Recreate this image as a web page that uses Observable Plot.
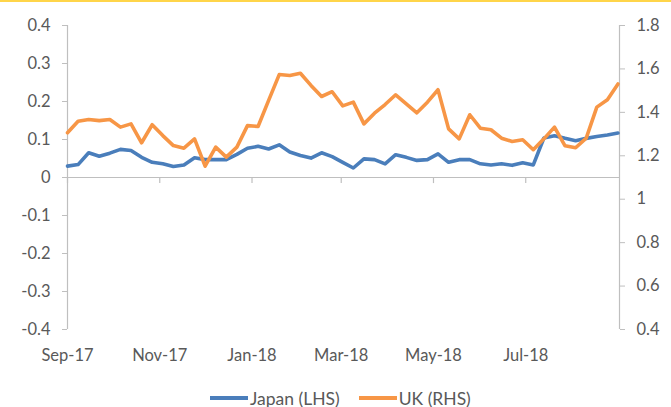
<!DOCTYPE html>
<html>
<head>
<meta charset="utf-8">
<script src="https://cdn.jsdelivr.net/npm/d3@7"></script>
<script src="https://cdn.jsdelivr.net/npm/@observablehq/plot@0.6"></script>
<style>
  html, body { margin: 0; padding: 0; background: #fff; }
  #wrap { position: relative; width: 671px; height: 407px; overflow: hidden; font-family: Lato, "Open Sans", sans-serif; }
  #topbar { position: absolute; left: 0; top: 0; width: 671px; height: 2px; background: #ffd54a; }
  #chart { position: absolute; left: 0; top: 0; }
  #legend { position: absolute; left: 210px; top: 388px; height: 20px; display: flex; align-items: center; font-size: 17.5px; color: #595959; white-space: nowrap; }
  .sw { display: inline-block; width: 38px; height: 3.5px; margin-right: 2px; }
  .item { display: flex; align-items: center; margin-right: 19px; }
</style>
</head>
<body>
<div id="wrap">
  <div id="chart"></div>
  <div id="topbar"></div>
  <div id="legend"></div>
</div>
<script>
// ---- data ----
const dates = [
  "2017-09-01","2017-09-08","2017-09-15","2017-09-22","2017-09-29",
  "2017-10-06","2017-10-13","2017-10-20","2017-10-27",
  "2017-11-03","2017-11-10","2017-11-17","2017-11-24",
  "2017-12-01","2017-12-08","2017-12-15","2017-12-22","2017-12-29",
  "2018-01-05","2018-01-12","2018-01-19","2018-01-26",
  "2018-02-02","2018-02-09","2018-02-16","2018-02-23",
  "2018-03-02","2018-03-09","2018-03-16","2018-03-23","2018-03-30",
  "2018-04-06","2018-04-13","2018-04-20","2018-04-27",
  "2018-05-04","2018-05-11","2018-05-18","2018-05-25",
  "2018-06-01","2018-06-08","2018-06-15","2018-06-22","2018-06-29",
  "2018-07-06","2018-07-13","2018-07-20","2018-07-27",
  "2018-08-03","2018-08-10","2018-08-17","2018-08-24","2018-08-31"
];
const japan = [
  0.030,0.034,0.065,0.056,0.064,
  0.074,0.071,0.053,0.040,
  0.036,0.029,0.033,0.052,
  0.047,0.047,0.047,0.061,0.077,
  0.082,0.075,0.086,0.067,
  0.058,0.051,0.065,0.055,
  0.040,0.025,0.049,0.047,0.036,
  0.060,0.053,0.045,0.047,
  0.062,0.040,0.047,0.047,
  0.036,0.033,0.036,0.032,0.039,
  0.033,0.104,0.110,0.103,
  0.097,0.103,0.108,0.112,0.117
];
const uk = [
  1.306,1.359,1.367,1.362,1.367,
  1.332,1.347,1.260,1.343,
  1.293,1.247,1.235,1.278,
  1.152,1.240,1.194,1.240,1.339,
  1.335,1.455,1.574,1.570,
  1.580,1.524,1.473,1.495,
  1.430,1.447,1.347,1.396,1.436,
  1.481,1.439,1.398,1.447,
  1.504,1.324,1.278,1.389,
  1.327,1.320,1.281,1.266,1.274,
  1.228,1.278,1.332,1.246,
  1.237,1.281,1.424,1.458,1.531
];
const leftTicks = [-0.4,-0.3,-0.2,-0.1,0,0.1,0.2,0.3,0.4];
const rightTicks = [0.4,0.6,0.8,1.0,1.2,1.4,1.6,1.8];
const xTicks = ["2017-09-01","2017-11-01","2018-01-01","2018-03-01","2018-05-01","2018-07-01"];
const xDomain = ["2017-09-01","2018-09-01"];
const seriesNames = ["Japan (LHS)","UK (RHS)"];
const seriesColors = ["#4a7ebb","#f79646"];

// ---- mapping of right axis onto left ----
const L0 = -0.4, L1 = 0.4, R0 = 0.4, R1 = 1.8;
const toLeft = v => L0 + (v - R0) * (L1 - L0) / (R1 - R0);
const toRight = v => R0 + (v - L0) * (R1 - R0) / (L1 - L0);
const fmt = v => String(+v.toFixed(1));

const parse = d3.utcParse("%Y-%m-%d");
const rows = dates.map((d, i) => ({date: parse(d), japan: japan[i], uk: uk[i]}));
const xT = xTicks.map(parse);
const xD = xDomain.map(parse);

const axisGray = "#bfbfbf";
const textGray = "#595959";

const chart = Plot.plot({
  width: 671,
  height: 385,
  marginTop: 25,
  marginBottom: 56,
  marginLeft: 67,
  marginRight: 52,
  style: {fontFamily: "Lato, 'Open Sans', sans-serif", fontSize: "16.5px", color: textGray, background: "transparent"},
  x: {type: "utc", domain: xD},
  y: {domain: [L0, L1]},
  marks: [
    Plot.ruleY([0], {stroke: axisGray, strokeWidth: 1.2}),
    Plot.ruleX([xD[0]], {y1: L0, y2: L1, stroke: axisGray, strokeWidth: 1.2}),
    Plot.ruleX([xD[1]], {y1: L0, y2: L1, stroke: axisGray, strokeWidth: 1.2}),
    Plot.ruleX(xT, {y1: 0, y2: -0.016, stroke: axisGray, strokeWidth: 1.2}),
    Plot.axisY(leftTicks, {anchor: "left", tickSize: 5, tickPadding: 12, stroke: axisGray, fill: textGray, tickFormat: fmt, label: null}),
    Plot.axisY(rightTicks.map(toLeft), {anchor: "right", tickSize: 5, tickPadding: 12, stroke: axisGray, fill: textGray, tickFormat: d => fmt(toRight(d)), label: null}),
    Plot.axisX(xT, {anchor: "bottom", tickSize: 0, tickPadding: 20, fill: textGray, tickFormat: d3.utcFormat("%b-%y"), label: null}),
    Plot.line(rows, {x: "date", y: "japan", stroke: seriesColors[0], strokeWidth: 3.6, strokeLinejoin: "round", strokeLinecap: "round"}),
    Plot.line(rows, {x: "date", y: d => toLeft(d.uk), stroke: seriesColors[1], strokeWidth: 3.6, strokeLinejoin: "round", strokeLinecap: "round"})
  ]
});
document.getElementById("chart").appendChild(chart);

const legend = document.getElementById("legend");
seriesNames.forEach((name, i) => {
  const item = document.createElement("span");
  item.className = "item";
  const sw = document.createElement("span");
  sw.className = "sw";
  sw.style.background = seriesColors[i];
  item.appendChild(sw);
  item.appendChild(document.createTextNode(name));
  legend.appendChild(item);
});
</script>
</body>
</html>
